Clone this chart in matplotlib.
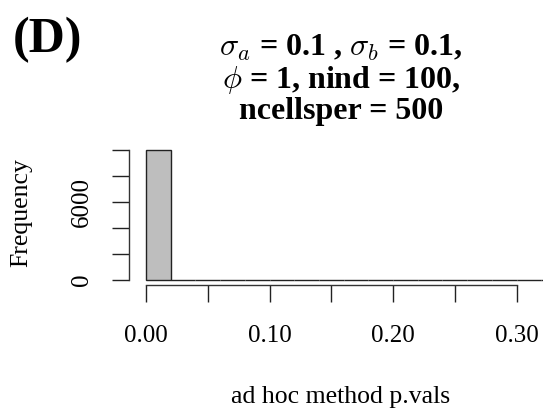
import numpy as np
import matplotlib.pyplot as plt

# histogram of ad hoc p-values, bins of width 0.02
bin_edges = [0.00, 0.02, 0.04, 0.06, 0.08, 0.10, 0.12, 0.14, 0.16, 0.18,
             0.20, 0.22, 0.24, 0.26, 0.28, 0.30, 0.32, 0.34]
counts = [9975, 9, 5, 1, 1, 6, 1, 0, 0, 1, 0, 0, 0, 0, 1, 0, 0]
xticks = [0.00, 0.05, 0.10, 0.15, 0.20, 0.25, 0.30]
xticklabels = ['0.00', '', '0.10', '', '0.20', '', '0.30']
yticks = [0, 2000, 4000, 6000, 8000, 10000]
yticklabels = ['0', '', '', '6000', '', '']

plt.rcParams['font.family'] = ['Liberation Serif', 'DejaVu Serif']
plt.rcParams['mathtext.fontset'] = 'cm'

W, H = 543, 412
fig = plt.figure(figsize=(W / 100, H / 100), dpi=100)

M = max(counts)
y0, y1 = -0.04 * M, 1.04 * M
x0, x1 = -0.04 * 0.34, 0.3214
# plot region in pixels
left, right = 129.2, 543
bot = 280 + 0.04 * M * 130 / 9975
top = bot - (y1 - y0) * 130 / 9975
ax = fig.add_axes([left / W, (H - bot) / H, (right - left) / W, (bot - top) / H])

edges = np.array(bin_edges)
ax.bar(edges[:-1], counts, width=np.diff(edges), align='edge',
       color='#bebebe', edgecolor='#222222', linewidth=1.0)

ax.set_xlim(x0, x1)
ax.set_ylim(y0, y1)
for s in ['top', 'right']:
    ax.spines[s].set_visible(False)
ax.spines['left'].set_bounds(0, 10000)
ax.spines['bottom'].set_bounds(0, 0.30)
for s in ['left', 'bottom']:
    ax.spines[s].set_color('#333333')
    ax.spines[s].set_linewidth(1.0)

ax.set_xticks(xticks)
ax.set_xticklabels(xticklabels, fontsize=18)
ax.set_yticks(yticks)
ax.set_yticklabels(yticklabels, fontsize=18, rotation=90, va='center')
ax.tick_params(axis='x', direction='out', length=12, width=1.0, color='#222222', pad=17)
ax.tick_params(axis='y', direction='out', length=12, width=1.0, color='#222222', pad=14)

fig.text(21.7 / W, 1 - 213 / H, 'Frequency', fontsize=18.5, rotation=90,
         ha='center', va='center')
fig.text(341 / W, 1 - 403 / H, 'ad hoc method p.vals', fontsize=18.5,
         ha='center', va='baseline')

fig.text(13 / W, 1 - 40 / H, '(D)', fontsize=36, fontweight='bold', ha='left', va='center')
title_lines = [r'$\sigma_a$ = 0.1 , $\sigma_b$ = 0.1,',
               r'$\phi$ = 1, nind = 100,',
               'ncellsper = 500']
for i, line in enumerate(title_lines):
    fig.text(341 / W, 1 - (55.5 + 32 * i) / H, line, fontsize=23, fontweight='bold',
             ha='center', va='baseline')

fig.savefig('out.png', dpi=100)
